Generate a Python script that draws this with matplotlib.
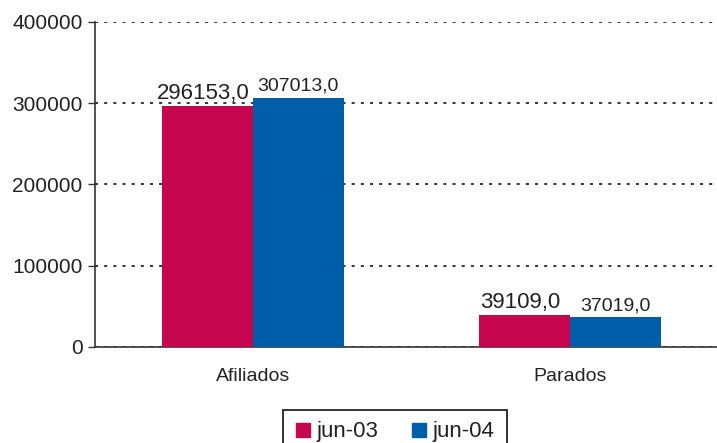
import numpy as np
import matplotlib.pyplot as plt
from matplotlib.patches import Rectangle

# datos
categorias = ['Afiliados', 'Parados']
series = ['jun-03', 'jun-04']
jun03 = [296153.0, 39109.0]
jun04 = [307013.0, 37019.0]
yticks = [0, 100000, 200000, 300000, 400000]

rojo = '#C5064E'
azul = '#005EA8'
colores = [rojo, azul]

plt.rcParams['font.family'] = ['Liberation Sans', 'DejaVu Sans']

W, H = 717, 443
fig = plt.figure(figsize=(W / 100, H / 100), dpi=100)
ax = fig.add_axes([95 / W, 1 - 347 / H, 1 - 95 / W, 325 / H])

x = np.arange(len(categorias))
w = 0.287
b1 = ax.bar(x - w / 2, jun03, w, color=rojo, zorder=3)
b2 = ax.bar(x + w / 2, jun04, w, color=azul, zorder=3)

# etiquetas de valores
for rect, v in zip(b1, jun03):
    ax.text(rect.get_x() + rect.get_width() / 2 - 0.012, v + 3000, f'{v:.1f}'.replace('.', ','),
            ha='center', va='bottom', fontsize=16, color='#222222')
for rect, v in zip(b2, jun04):
    ax.text(rect.get_x() + rect.get_width() / 2, v + 3500, f'{v:.1f}'.replace('.', ','),
            ha='center', va='bottom', fontsize=14, color='#222222')

ax.set_xlim(-0.498, 1.464)
ax.set_ylim(0, 400000)
ax.set_yticks(yticks)
ax.set_yticklabels([str(t) for t in yticks], fontsize=15, color='#222222')
ax.set_xticks(x)
ax.set_xticklabels(categorias, fontsize=14, color='#222222')
ax.tick_params(axis='x', length=0, pad=15)
ax.tick_params(axis='y', length=5, width=1, color='#333333', pad=4)

ax.grid(axis='y', linestyle=(0, (2, 4)), color='black', linewidth=1.1, zorder=0)
for s in ['top', 'right']:
    ax.spines[s].set_visible(False)
ax.spines['left'].set_color('#333333')
ax.spines['bottom'].set_color('#333333')
ax.spines['left'].set_linewidth(1.2)
ax.spines['bottom'].set_linewidth(1.2)

# leyenda (caja recortada por el borde inferior)
def fx(px):
    return px / W

def fy(py):
    return 1 - py / H

fig.patches.append(Rectangle((fx(283), fy(460)), fx(507) - fx(283), fy(410) - fy(460),
                             transform=fig.transFigure, fill=False, edgecolor='#222222',
                             linewidth=1.3))
for x0, col, lab in zip([296, 412], colores, series):
    fig.patches.append(Rectangle((fx(x0), fy(437)), fx(14), 14 / H,
                                 transform=fig.transFigure, color=col))
    fig.text(fx(x0 + 21), fy(437), lab, fontsize=16, color='#222222',
             ha='left', va='baseline')

fig.savefig('out.png', dpi=100)
